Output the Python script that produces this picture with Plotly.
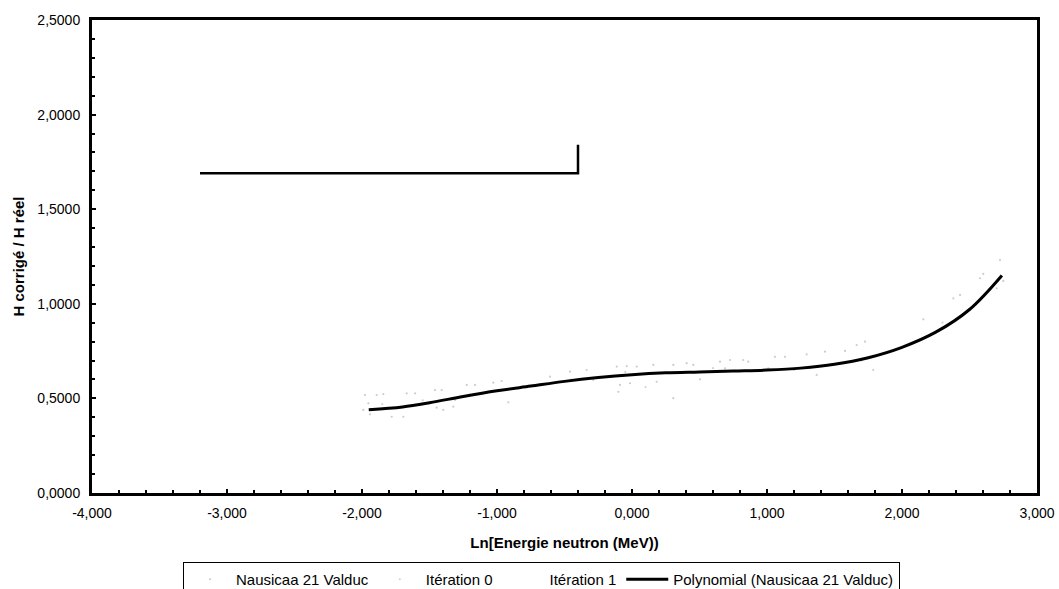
import plotly.graph_objects as go

# --- data ---
# Nausicaa 21 Valduc (faint scattered points)
naus_x = [-1.978, -1.891, -1.842, -1.669, -1.607, -1.459, -1.410, -1.953, -1.990, -1.941,
          -1.780, -1.694, -1.447, -1.398, -1.324, -1.311, -1.224, -1.163, -1.027, -0.965,
          -0.916, -0.607, -0.459, -0.336, -0.113, -0.039, 0.035, -0.089, -0.015, -0.101,
          0.158, 0.183, 0.306, 0.306, 0.405, -0.287, 0.454, 0.504, 0.652, 0.726,
          0.824, 0.861, 1.059, 1.133, 1.294, 1.430, 1.578, 1.368, 0.689, 1.010,
          1.664, 1.726, 1.787, 2.158, 2.380, 2.430, 2.578, 2.602, 2.701, 2.726, 2.750]
naus_y = [0.518, 0.518, 0.523, 0.527, 0.527, 0.544, 0.544, 0.474, 0.439, 0.416,
          0.403, 0.403, 0.451, 0.439, 0.456, 0.492, 0.571, 0.571, 0.583, 0.592,
          0.479, 0.615, 0.641, 0.650, 0.668, 0.671, 0.668, 0.571, 0.580, 0.535,
          0.677, 0.588, 0.677, 0.501, 0.686, 0.597, 0.677, 0.601, 0.694, 0.703,
          0.703, 0.694, 0.720, 0.720, 0.733, 0.747, 0.751, 0.624, 0.659, 0.659,
          0.782, 0.800, 0.650, 0.918, 1.029, 1.047, 1.135, 1.158, 1.082, 1.231, 1.121]

# Itération 0 (faint points)
iter0_x = [-1.85, -1.55, -1.20, -0.80, -0.45, -0.05, 0.10, 0.60, 1.20, 1.70, 2.30]
iter0_y = [0.470, 0.490, 0.520, 0.560, 0.600, 0.640, 0.560, 0.660, 0.650, 0.700, 0.900]

# Itération 1 (step line)
iter1_x = [-3.2, -0.4, -0.4]
iter1_y = [1.69, 1.69, 1.84]

# Polynomial (Nausicaa 21 Valduc) trend line
poly_x = [-1.95, -1.7, -1.5, -1.25, -1.0, -0.75, -0.5, -0.25, 0.0, 0.25,
          0.5, 0.75, 1.0, 1.25, 1.5, 1.75, 2.0, 2.25, 2.5, 2.74]
poly_y = [0.44, 0.455, 0.477, 0.51, 0.54, 0.565, 0.59, 0.61, 0.625, 0.635,
          0.64, 0.645, 0.65, 0.66, 0.68, 0.715, 0.77, 0.85, 0.97, 1.15]

x_ticks = [-4, -3, -2, -1, 0, 1, 2, 3]
x_labels = ["-4,000", "-3,000", "-2,000", "-1,000", "0,000", "1,000", "2,000", "3,000"]
y_ticks = [0, 0.5, 1.0, 1.5, 2.0, 2.5]
y_labels = ["0,0000", "0,5000", "1,0000", "1,5000", "2,0000", "2,5000"]

FONT = "Liberation Sans, Arial, sans-serif"

fig = go.Figure()
fig.add_trace(go.Scatter(x=naus_x, y=naus_y, mode="markers", name="Nausicaa 21 Valduc",
                         marker=dict(color="#cccccc", size=2.2)))
fig.add_trace(go.Scatter(x=iter0_x, y=iter0_y, mode="markers", name="Itération 0",
                         marker=dict(color="#d4d4d4", size=2.2)))
fig.add_trace(go.Scatter(x=iter1_x, y=iter1_y, mode="lines", name="Itération 1",
                         line=dict(color="black", width=2.5), showlegend=False))
fig.add_trace(go.Scatter(x=[None], y=[None], mode="markers", name="Itération 1",
                         marker=dict(color="rgba(0,0,0,0)", size=1)))
fig.add_trace(go.Scatter(x=poly_x, y=poly_y, mode="lines", name="Polynomial (Nausicaa 21 Valduc)",
                         line=dict(color="black", width=3, shape="spline")))

fig.update_layout(
    width=1059, height=589,
    margin=dict(l=92, r=22, t=20, b=96, autoexpand=False),
    paper_bgcolor="white", plot_bgcolor="white",
    font=dict(family=FONT, size=14, color="black"),
    legend=dict(orientation="h", x=0.0963, xanchor="left", y=-0.1459, yanchor="top",
                bordercolor="black", borderwidth=1, font=dict(size=15),
                itemwidth=42, tracegroupgap=0),
)
fig.update_xaxes(
    range=[-4, 3], tickvals=x_ticks, ticktext=x_labels,
    showline=True, linecolor="black", linewidth=3, mirror=True,
    ticks="inside", ticklen=4, tickwidth=2, tickcolor="black",
    minor=dict(dtick=0.2, ticks="inside", ticklen=3, tickwidth=2, tickcolor="black"),
    showgrid=False, zeroline=False, ticklabelstandoff=5,
    title=dict(text="<b>Ln[Energie neutron (MeV))</b>", font=dict(size=15), standoff=18),
    tickfont=dict(size=14),
)
fig.update_yaxes(
    range=[0, 2.5], tickvals=y_ticks, ticktext=y_labels,
    showline=True, linecolor="black", linewidth=3, mirror=True,
    ticks="inside", ticklen=4, tickwidth=2, tickcolor="black",
    minor=dict(dtick=0.1, ticks="inside", ticklen=3, tickwidth=2, tickcolor="black"),
    showgrid=False, zeroline=False, ticklabelstandoff=6,
    title=dict(text="<b>H corrigé / H réel</b>", font=dict(size=15), standoff=10),
    tickfont=dict(size=14),
)

fig.write_html("out.html")
